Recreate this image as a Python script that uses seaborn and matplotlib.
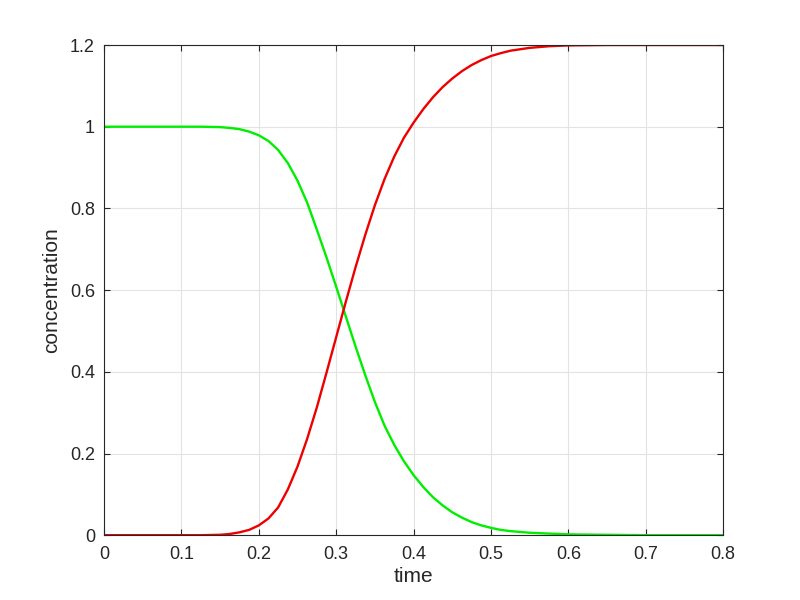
import matplotlib
matplotlib.use('Agg')
import matplotlib.pyplot as plt
import numpy as np
import pandas as pd
import seaborn as sns

# 读出的曲线数据
time = [0, 0.05, 0.1, 0.125, 0.15, 0.1625, 0.175, 0.1875, 0.2, 0.2125,
        0.225, 0.2375, 0.25, 0.2625, 0.275, 0.2875, 0.3, 0.3125, 0.325, 0.3375,
        0.35, 0.3625, 0.375, 0.3875, 0.4, 0.4125, 0.425, 0.4375, 0.45, 0.4625,
        0.475, 0.4875, 0.5, 0.5125, 0.525, 0.55, 0.575, 0.6, 0.65, 0.7, 0.75, 0.8]

green = [1.0, 1.0, 1.0, 1.0, 0.999, 0.997, 0.994, 0.988, 0.979, 0.965,
         0.943, 0.911, 0.868, 0.814, 0.748, 0.68, 0.608, 0.535, 0.462, 0.392,
         0.326, 0.268, 0.221, 0.181, 0.147, 0.118, 0.093, 0.073, 0.056, 0.043,
         0.032, 0.024, 0.018, 0.013, 0.01, 0.006, 0.004, 0.002, 0.001, 0.0, 0.0, 0.0]

red = [0.0, 0.0, 0.0, 0.0, 0.001, 0.003, 0.007, 0.013, 0.024, 0.041,
       0.068, 0.112, 0.168, 0.236, 0.313, 0.398, 0.485, 0.572, 0.656, 0.735,
       0.808, 0.872, 0.927, 0.973, 1.01, 1.043, 1.072, 1.097, 1.118, 1.136,
       1.151, 1.163, 1.173, 1.18, 1.186, 1.193, 1.197, 1.199, 1.2, 1.2, 1.2, 1.2]

xticks = [0, 0.1, 0.2, 0.3, 0.4, 0.5, 0.6, 0.7, 0.8]
yticks = [0, 0.2, 0.4, 0.6, 0.8, 1.0, 1.2]
xticklabels = ['0', '0.1', '0.2', '0.3', '0.4', '0.5', '0.6', '0.7', '0.8']
yticklabels = ['0', '0.2', '0.4', '0.6', '0.8', '1', '1.2']

df = pd.DataFrame({'time': time * 2,
                   'concentration': green + red,
                   'species': ['A'] * len(time) + ['B'] * len(time)})

sns.set_style('white')
plt.rcParams['font.family'] = ['Liberation Sans', 'DejaVu Sans']

fig = plt.figure(figsize=(8, 6), dpi=100)
ax = fig.add_axes([0.13, 0.108, 0.774, 0.817])

sns.lineplot(data=df, x='time', y='concentration', hue='species',
             palette={'A': '#00ee00', 'B': '#ee0000'}, linewidth=1.7,
             legend=False, ax=ax, sort=False)

ax.set_xlim(0, 0.8)
ax.set_ylim(0, 1.2)
ax.set_xticks(xticks)
ax.set_xticklabels(xticklabels)
ax.set_yticks(yticks)
ax.set_yticklabels(yticklabels)
ax.grid(True, color='#e3e3e3', linewidth=0.8)
ax.set_axisbelow(True)

for s in ax.spines.values():
    s.set_visible(True)
    s.set_color('#262626')
    s.set_linewidth(0.8)

ax.tick_params(direction='in', length=4, width=0.8, color='#262626',
               labelcolor='#262626', labelsize=13, top=True, right=True,
               bottom=True, left=True)
ax.tick_params(axis='x', pad=8)
ax.tick_params(axis='y', pad=6.5)
ax.set_xlabel('time', fontsize=15, color='#262626', labelpad=3)
ax.set_ylabel('concentration', fontsize=15, color='#262626', labelpad=6)

fig.savefig('out.png', dpi=100)
